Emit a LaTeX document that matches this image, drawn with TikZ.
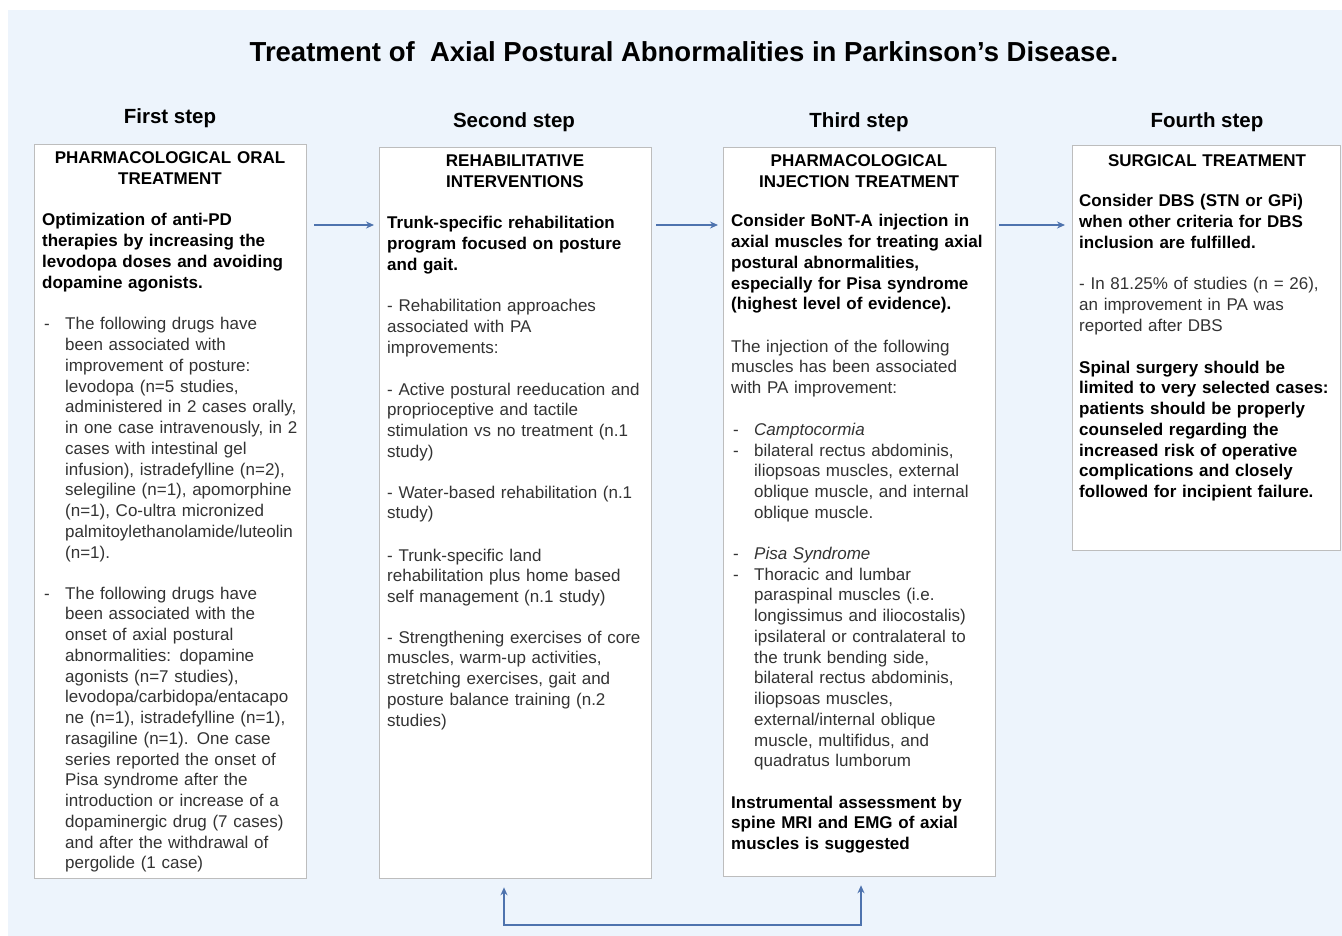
\documentclass[tikz,border=0pt]{standalone}
\usepackage{fontspec}
\setmainfont{Liberation Sans}
\usetikzlibrary{arrows.meta,calc}
\definecolor{bgblue}{HTML}{EDF4FC}
\definecolor{arrblue}{HTML}{4E73AE}
\definecolor{boxline}{HTML}{BDBDBD}
\definecolor{txtgray}{HTML}{333333}
\begin{document}
\begin{tikzpicture}[x=1pt,y=-1pt,
 box/.style={draw=boxline, line width=1.3pt, fill=white, inner sep=0, anchor=north west},
 hdr/.style={anchor=base, inner sep=0, align=center, text width=250pt, font=\bfseries\fontsize{17}{20.75}\selectfont},
 bodyr/.style={anchor=base west, inner sep=0, align=left, text width=#1, text=txtgray, font=\fontsize{17}{20.75}\selectfont},
 bodyb/.style={anchor=base west, inner sep=0, align=left, text width=#1, text=black, font=\bfseries\fontsize{17}{20.75}\selectfont},
 dashm/.style={anchor=base west, inner sep=0, text=txtgray, font=\fontsize{17}{20.75}\selectfont},
 steplbl/.style={anchor=base, inner sep=0, font=\bfseries\fontsize{20.5}{24}\selectfont},
 arr/.style={draw=arrblue, line width=2pt, -{Stealth[length=8pt,width=7pt]}},
 arrboth/.style={draw=arrblue, line width=2pt, {Stealth[length=8pt,width=7pt]}-{Stealth[length=8pt,width=7pt]}},
]
\useasboundingbox (0,0) rectangle (1342,936);
\fill[bgblue] (8,10) rectangle (1342,936);

% title and step labels
\node[anchor=base, inner sep=0, font=\bfseries\fontsize{27.5}{32}\selectfont] (title) at (684,62) {Treatment of\ \ Axial Postural Abnormalities in Parkinson’s Disease.};
\node[steplbl] (s1) at (170,124) {First step};
\node[steplbl] (s2) at (514,128) {Second step};
\node[steplbl] (s3) at (859,128) {Third step};
\node[steplbl] (s4) at (1207,128) {Fourth step};

% boxes
\node[box, minimum width=272, minimum height=734] (box1) at (34,144) {};
\node[box, minimum width=272, minimum height=731] (box2) at (379,147) {};
\node[box, minimum width=272, minimum height=729] (box3) at (723,147) {};
\node[box, minimum width=268, minimum height=405] (box4) at (1072,145) {};

% box 1
\node[hdr] (h1) at (170,164) {PHARMACOLOGICAL ORAL\\TREATMENT};
\node[bodyb=262pt] (b1a) at (42,226) {Optimization of anti-PD\\therapies by increasing the\\levodopa doses and avoiding\\dopamine agonists.};
\node[dashm] (d1a) at (44,330) {-};
\node[bodyr=240pt] (b1b) at (65,330) {The following drugs have\\been associated with\\improvement of posture:\\levodopa (n=5 studies,\\administered in 2 cases orally,\\in one case intravenously, in 2\\cases with intestinal gel\\infusion), istradefylline (n=2),\\selegiline (n=1), apomorphine\\(n=1), Co-ultra micronized\\palmitoylethanolamide/luteolin\\(n=1).};
\node[dashm] (d1b) at (44,599) {-};
\node[bodyr=240pt] (b1c) at (65,599) {The following drugs have\\been associated with the\\onset of axial postural\\abnormalities: dopamine\\agonists (n=7 studies),\\levodopa/carbidopa/entacapo\\ne (n=1), istradefylline (n=1),\\rasagiline (n=1). One case\\series reported the onset of\\Pisa syndrome after the\\introduction or increase of a\\dopaminergic drug (7 cases)\\and after the withdrawal of\\pergolide (1 case)};

% box 2
\node[hdr] (h2) at (515,167) {REHABILITATIVE\\INTERVENTIONS};
\node[bodyb=262pt] (b2a) at (387,229) {Trunk-specific rehabilitation\\program focused on posture\\and gait.};
\node[bodyr=262pt] (b2b) at (387,312) {- Rehabilitation approaches\\associated with PA\\improvements:};
\node[bodyr=262pt] (b2c) at (387,395) {- Active postural reeducation and\\proprioceptive and tactile\\stimulation vs no treatment (n.1\\study)};
\node[bodyr=262pt] (b2d) at (387,498) {- Water-based rehabilitation (n.1\\study)};
\node[bodyr=262pt] (b2e) at (387,561) {- Trunk-specific land\\rehabilitation plus home based\\self management (n.1 study)};
\node[bodyr=262pt] (b2f) at (387,643) {- Strengthening exercises of core\\muscles, warm-up activities,\\stretching exercises, gait and\\posture balance training (n.2\\studies)};

% box 3
\node[hdr] (h3) at (859,167) {PHARMACOLOGICAL\\INJECTION TREATMENT};
\node[bodyb=262pt] (b3a) at (731,227) {Consider BoNT-A injection in\\axial muscles for treating axial\\postural abnormalities,\\especially for Pisa syndrome\\(highest level of evidence).};
\node[bodyr=262pt] (b3b) at (731,352) {The injection of the following\\muscles has been associated\\with PA improvement:};
\node[dashm] (d3a) at (733,435) {-};
\node[bodyr=240pt] (b3c) at (754,435) {\itshape Camptocormia};
\node[dashm] (d3b) at (733,456) {-};
\node[bodyr=240pt] (b3d) at (754,456) {bilateral rectus abdominis,\\iliopsoas muscles, external\\oblique muscle, and internal\\oblique muscle.};
\node[dashm] (d3c) at (733,559) {-};
\node[bodyr=240pt] (b3e) at (754,559) {\itshape Pisa Syndrome};
\node[dashm] (d3d) at (733,580) {-};
\node[bodyr=240pt] (b3f) at (754,580) {Thoracic and lumbar\\paraspinal muscles (i.e.\\longissimus and iliocostalis)\\ipsilateral or contralateral to\\the trunk bending side,\\bilateral rectus abdominis,\\iliopsoas muscles,\\external/internal oblique\\muscle, multifidus, and\\quadratus lumborum};
\node[bodyb=262pt] (b3g) at (731,808) {Instrumental assessment by\\spine MRI and EMG of axial\\muscles is suggested};

% box 4
\node[hdr] (h4) at (1207,167) {SURGICAL TREATMENT};
\node[bodyb=258pt] (b4a) at (1079,207) {Consider DBS (STN or GPi)\\when other criteria for DBS\\inclusion are fulfilled.};
\node[bodyr=258pt] (b4b) at (1079,290) {- In 81.25\% of studies (n = 26),\\an improvement in PA was\\reported after DBS};
\node[bodyb=258pt] (b4c) at (1079,373) {Spinal surgery should be\\limited to very selected cases:\\patients should be properly\\counseled regarding the\\increased risk of operative\\complications and closely\\followed for incipient failure.};

% connectors
\draw[arr] ($(box1.north east)+(7,81)$) -- ($(box2.north west)+(-5,78)$);
\draw[arr] ($(box2.north east)+(4,78)$) -- ($(box3.north west)+(-5,78)$);
\draw[arr] ($(box3.north east)+(3,78)$) -- ($(box4.north west)+(-7,80)$);
\coordinate (bl) at (504,925);
\coordinate (br) at (861,925);
\draw[arrboth] ($(box2.south -| bl)+(0,8)$) -- (bl) -- (br) -- ($(box3.south -| br)+(0,8)$);
\end{tikzpicture}
\end{document}
